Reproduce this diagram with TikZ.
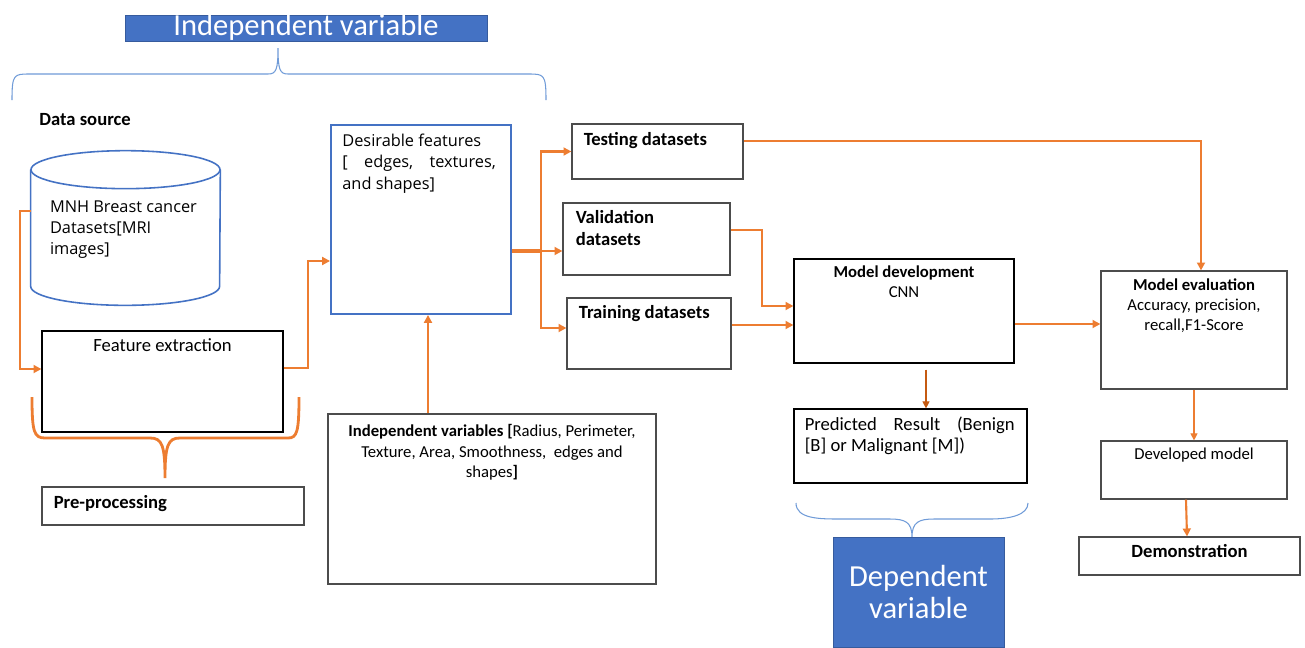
\documentclass[tikz,border=0pt]{standalone}
\usepackage{fontspec}
\setmainfont{Carlito}
\newfontfamily\osans{Open Sans}
\usetikzlibrary{arrows.meta,positioning}
\definecolor{accblue}{HTML}{4472C4}
\definecolor{braceblue}{HTML}{6F9BD8}
\definecolor{accorange}{HTML}{ED7D31}
\definecolor{darkorange}{HTML}{C55A11}

\begin{document}
\begin{tikzpicture}[x=0.02cm,y=-0.02cm,>={Triangle[length=4.5pt,width=4.5pt]},
  font=\fontsize{9.5}{11.5}\selectfont,
  box/.style={draw=black!70,line width=0.7pt,inner sep=0pt},
  bluebox/.style={draw=accblue,line width=1.1pt,inner sep=0pt},
  dbline/.style={draw=accblue,line width=0.9pt},
  hdr/.style={fill=accblue,draw=accblue!80!black,line width=0.4pt,text=white,inner sep=0pt,align=center,font=\fontsize{17.4}{18.5}\selectfont},
  lbl/.style={anchor=north,align=center,inner sep=0pt},
  lblw/.style={anchor=north west,align=left,inner sep=0pt},
  big/.style={font=\fontsize{10.6}{12.2}\selectfont},
  osans/.style={font=\osans\fontsize{9.3}{12}\selectfont},
  flow/.style={->,draw=accorange,line width=1.2pt},
  trunk/.style={draw=accorange,line width=2pt},
  thinflow/.style={-{Triangle[length=4pt,width=4pt]},draw=darkorange,line width=0.6pt},
  obrace/.style={draw=accorange,line width=1.6pt},
  bbrace/.style={draw=braceblue,line width=0.6pt}]
\fill[white] (0,0) rectangle (1305,647);
\useasboundingbox (0,0) rectangle (1305,647);

% headers and braces
\node[hdr,minimum width=7.24cm,minimum height=0.52cm,text height=11.5pt,text depth=3pt] (ivhdr) at (306,28) {Independent variable};
\draw[bbrace] (12,100) .. controls (12,74) and (14,74) .. (30,74) -- (268,74) .. controls (276,74) and (278,70) .. (278,48)
  .. controls (278,70) and (280,74) .. (288,74) -- (528,74) .. controls (544,74) and (546,74) .. (546,100);

% data source
\node[anchor=base west,inner sep=0pt,big] (dsrc) at (39,125) {\textbf{Data source}};
\node[minimum width=3.78cm,minimum height=3.08cm,inner sep=0pt,
  label={[lblw,osans,xshift=0.38cm,yshift=-1.0cm]north west:MNH Breast cancer\\Datasets[MRI\\images]}] (db) at (125.5,228) {};
\draw[dbline] ([yshift=-0.38cm]db.north west) -- ([yshift=0.38cm]db.south west)
  arc[start angle=180,end angle=360,x radius=1.89cm,y radius=0.38cm] -- ([yshift=-0.38cm]db.north east);
\draw[dbline] ([yshift=-0.38cm]db.north) ellipse[x radius=1.89cm,y radius=0.38cm];

\node[box,draw=black,minimum width=4.82cm,minimum height=2.02cm,label={[lbl,big,yshift=-0.16cm]north:Feature extraction}] (fe) at (162.5,381.5) {};
\draw[obrace] (32,397) .. controls (32,432) and (34,438) .. (45,438) -- (150,438) .. controls (162,438) and (165,445) .. (165,478)
  .. controls (165,445) and (168,438) .. (180,438) -- (288,438) .. controls (297,438) and (299,432) .. (299,397);
\node[box,minimum width=5.24cm,minimum height=0.76cm,label={[anchor=west,inner sep=0pt,big,xshift=0.24cm,yshift=0.05cm]west:\textbf{Pre-processing}}] (pre) at (173,506) {};

% features
\node[bluebox,minimum width=3.6cm,minimum height=3.78cm,
  label={[lblw,osans,xshift=0.24cm,yshift=-0.2cm]north west:Desirable features\\{}[\quad edges,\quad textures,\\and shapes]}] (des) at (421,219.5) {};
\node[box,minimum width=6.56cm,minimum height=3.4cm,
  label={[lbl,yshift=-0.22cm]north:\textbf{Independent variables [}Radius, Perimeter,\\Texture, Area, Smoothness,\ \ edges and\\shapes\textbf{]}}] (iv) at (492,499) {};

% datasets
\node[box,minimum width=3.42cm,minimum height=1.1cm,label={[lblw,big,xshift=0.24cm,yshift=-0.18cm]north west:\textbf{Testing datasets}}] (test) at (657.5,151.5) {};
\node[box,minimum width=3.34cm,minimum height=1.44cm,label={[lblw,big,xshift=0.26cm,yshift=-0.16cm]north west:\textbf{Validation}\\\textbf{datasets}}] (val) at (646.5,239) {};
\node[box,minimum width=3.28cm,minimum height=1.42cm,label={[lblw,big,xshift=0.24cm,yshift=-0.16cm]north west:\textbf{Training datasets}}] (train) at (649,333.5) {};

% model
\node[box,draw=black,minimum width=4.4cm,minimum height=2.08cm,label={[lbl,yshift=-0.14cm]north:\textbf{Model development}\\CNN}] (md) at (904,311) {};
\node[box,minimum width=3.72cm,minimum height=2.36cm,label={[lbl,yshift=-0.16cm]north:\textbf{Model evaluation}\\Accuracy, precision,\\recall,F1-Score}] (me) at (1194,330) {};
\node[box,draw=black,minimum width=4.66cm,minimum height=1.48cm,
  label={[lblw,big,text width=4.2cm,align=justify,xshift=0.22cm,yshift=-0.16cm]north west:Predicted Result (Benign\linebreak{}[B] or Malignant [M])}] (pred) at (910.5,446) {};
\draw[bbrace] (796,503) .. controls (796,519) and (820,519) .. (840,519) -- (890,519) .. controls (905,519) and (912,522) .. (912,537)
  .. controls (912,522) and (919,519) .. (934,519) -- (990,519) .. controls (1010,519) and (1028,515) .. (1028,503);
\node[hdr,minimum width=3.42cm,minimum height=2.2cm] (dep) at (918.5,592) {Dependent\\variable};
\node[box,minimum width=3.72cm,minimum height=1.16cm,label={[lbl,yshift=-0.14cm]north:Developed model}] (dev) at (1194,470) {};
\node[box,minimum width=4.42cm,minimum height=0.76cm,label={[lbl,big,yshift=-0.16cm]north:\textbf{Demonstration}}] (demo) at (1189.5,556) {};

% connectors
\draw[flow] ([yshift=0.34cm]db.west) -- ++(-11,0) |- ([yshift=0.25cm]fe.west);
\draw[flow] ([yshift=0.27cm]fe.east) -- ++(24,0) |- ([yshift=-0.83cm]des.west);
\draw[flow] ([xshift=0.14cm]des.south |- iv.north) -- ([xshift=0.14cm]des.south);
\draw[trunk] ([yshift=-0.63cm]des.east) -- ++(29,0) coordinate (split);
\draw[flow] (split) |- (test.west);
\draw[flow] (split) |- ([yshift=-0.24cm]val.west);
\draw[flow] (split) |- ([yshift=0.11cm]train.west);
\draw[flow] ([yshift=0.18cm]val.east) -- ++(31,0) |- ([yshift=0.1cm]md.west);
\draw[flow] ([yshift=0.17cm]train.east) -- ([yshift=0.17cm]train.east -| md.west);
\draw[flow] ([yshift=0.21cm]test.east) -| ([xshift=0.14cm]me.north);
\draw[flow] ([yshift=-0.26cm]md.east) -- ([yshift=-0.26cm]md.east -| me.west);
\draw[thinflow] ([xshift=0.44cm,yshift=-0.12cm]md.south) -- ([xshift=0.44cm]md.south |- pred.north);
\draw[thinflow,draw=accorange] (me) -- (dev);
\draw[flow] ([xshift=-0.16cm]dev.south) -- ([xshift=-0.05cm]demo.north);
\end{tikzpicture}
\end{document}
